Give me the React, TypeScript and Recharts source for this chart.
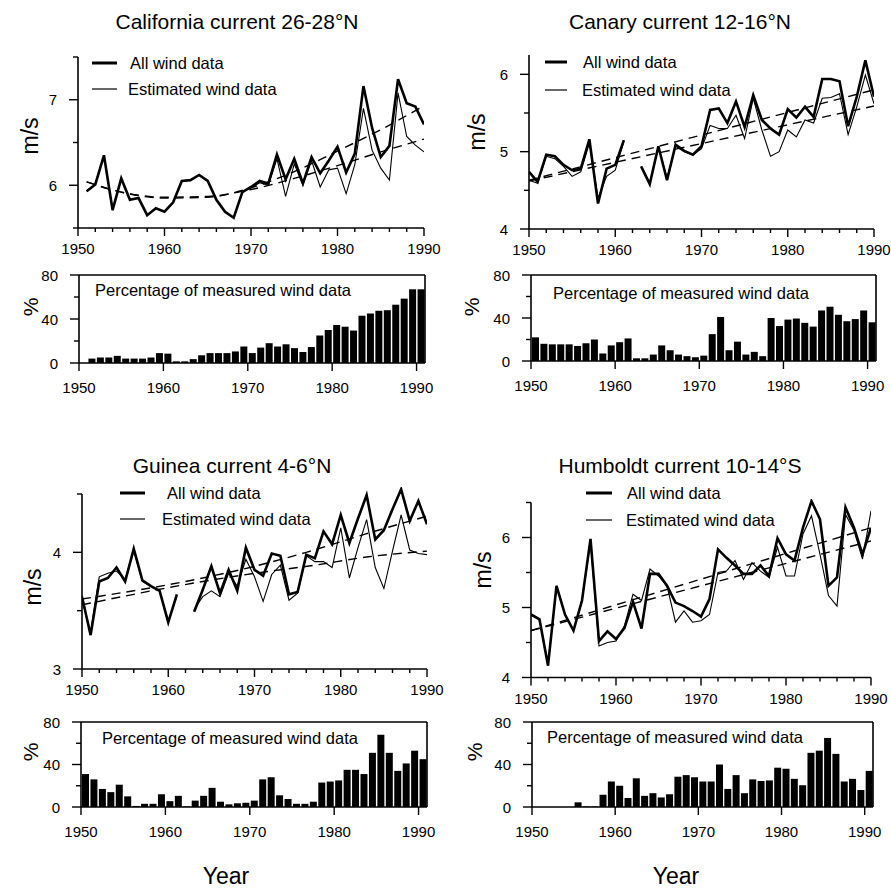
import React from 'react';
import { LineChart, Line, XAxis, YAxis, ComposedChart, Bar, ReferenceLine } from 'recharts';

const FONT = '"Liberation Sans", Arial, Helvetica, sans-serif';

const YEARS = [1950, 1951, 1952, 1953, 1954, 1955, 1956, 1957, 1958, 1959, 1960, 1961, 1962, 1963, 1964, 1965, 1966, 1967, 1968, 1969, 1970, 1971, 1972, 1973, 1974, 1975, 1976, 1977, 1978, 1979, 1980, 1981, 1982, 1983, 1984, 1985, 1986, 1987, 1988, 1989, 1990];
const LINE_X_TICKS = [1950, 1952, 1954, 1956, 1958, 1960, 1962, 1964, 1966, 1968, 1970, 1972, 1974, 1976, 1978, 1980, 1982, 1984, 1986, 1988, 1990];
const DECADES = [1950, 1960, 1970, 1980, 1990];
const PCT_TICKS = [0, 20, 40, 60, 80];
const PCT_LABELS = [0, 40, 80];

// California current 26-28N
const CAL_ALL = [null, 5.93, 6.01, 6.35, 5.71, 6.08, 5.83, 5.85, 5.65, 5.73, 5.69, 5.80, 6.05, 6.06, 6.12, 6.05, 5.83, 5.69, 5.62, 5.92, 5.98, 6.05, 6.02, 6.36, 6.07, 6.31, 6.02, 6.33, 6.14, 6.29, 6.45, 6.15, 6.37, 7.16, 6.67, 6.33, 6.46, 7.24, 6.96, 6.92, 6.71];
const CAL_EST = [null, 5.93, 6.01, 6.35, 5.71, 6.08, 5.83, 5.85, 5.65, 5.73, 5.69, 5.80, 6.05, 6.06, 6.12, 6.05, 5.83, 5.69, 5.62, 5.92, 5.97, 6.03, 6.00, 6.31, 5.87, 6.25, 6.00, 6.29, 5.98, 6.18, 6.20, 5.90, 6.24, 6.90, 6.41, 6.20, 6.06, 7.08, 6.57, 6.47, 6.39];
const CAL_TREND_YEARS = [1951, 1955, 1960, 1965, 1970, 1975, 1980, 1985, 1990];
const CAL_TREND_ALL = [6.04, 5.92, 5.85, 5.86, 5.97, 6.16, 6.40, 6.65, 6.93];
const CAL_TREND_EST = [6.04, 5.92, 5.86, 5.87, 5.95, 6.08, 6.23, 6.39, 6.54];
const CAL_PCT = [0, 4, 5, 5, 6.5, 4, 4, 4, 5, 9, 8.5, 1.5, 1.5, 3.5, 7, 9, 9, 9, 10.5, 15, 9, 14, 18, 15, 17, 13.5, 10, 14.5, 25, 30, 34.5, 33, 29.5, 43, 45, 47.5, 48, 53, 58.5, 67, 67];

// Canary current 12-16N
const CAN_ALL = [4.74, 4.61, 4.96, 4.94, 4.83, 4.76, 4.78, 5.16, 4.33, 4.78, 4.83, 5.15, null, 4.81, 4.58, 5.07, 4.63, 5.09, 5.01, 4.96, 5.07, 5.54, 5.56, 5.37, 5.65, 5.32, 5.73, 5.41, 5.30, 5.22, 5.55, 5.44, 5.58, 5.45, 5.94, 5.94, 5.91, 5.33, 5.71, 6.18, 5.71];
const CAN_EST = [4.63, 4.59, 4.94, 4.91, 4.81, 4.68, 4.74, 5.11, 4.40, 4.68, 4.76, 5.13, null, 4.81, 4.59, 5.06, 4.66, 5.07, 5.00, 4.96, 5.04, 5.34, 5.30, 5.30, 5.47, 5.17, 5.69, 5.28, 4.94, 5.00, 5.28, 5.19, 5.41, 5.37, 5.69, 5.70, 5.75, 5.22, 5.58, 5.99, 5.62];
const CAN_TREND_YEARS = [1950, 1990];
const CAN_TREND_ALL = [4.63, 5.80];
const CAN_TREND_EST = [4.62, 5.59];
const CAN_PCT = [22, 16, 15.5, 15.5, 15.5, 14, 16.5, 20, 7, 14.5, 17.5, 21, 2.5, 2.5, 6, 14.5, 10, 6, 4.5, 3.5, 5, 25, 41, 10, 18, 6, 8.5, 4.5, 40, 32.5, 38.5, 39.5, 35.5, 32, 47, 50.5, 43, 37, 39, 47, 36];

// Guinea current 4-6N
const GUI_ALL = [3.62, 3.29, 3.75, 3.78, 3.87, 3.75, 4.03, 3.76, 3.71, 3.67, 3.40, 3.64, null, 3.49, 3.68, 3.88, 3.65, 3.85, 3.67, 4.04, 3.85, 3.80, 3.99, 3.97, 3.64, 3.66, 3.98, 3.95, 4.18, 4.07, 4.32, 4.08, 4.29, 4.49, 4.11, 4.19, 4.37, 4.54, 4.27, 4.44, 4.24];
const GUI_EST = [3.59, 3.32, 3.79, 3.82, 3.84, 3.77, 4.02, 3.75, 3.71, 3.67, 3.41, 3.62, null, 3.51, 3.62, 3.67, 3.62, 3.82, 3.71, 3.94, 3.79, 3.58, 3.81, 3.89, 3.59, 3.65, 3.97, 3.92, 3.92, 3.87, 4.21, 3.78, 4.04, 4.28, 3.87, 3.69, 4.01, 4.32, 4.02, 3.99, 3.98];
const GUI_TREND_ALL_YEARS = [1950, 1964, 1970, 1976, 1983, 1990];
const GUI_TREND_ALL = [3.60, 3.78, 3.88, 4.00, 4.16, 4.31];
const GUI_TREND_EST_YEARS = [1950, 1964, 1970, 1977, 1983, 1990];
const GUI_TREND_EST = [3.55, 3.75, 3.82, 3.89, 3.96, 4.01];
const GUI_PCT = [31, 26, 17, 14, 21, 10, 1, 3, 3, 12, 5.5, 10.5, 0.5, 6, 10.5, 18, 5, 2.5, 3.5, 4, 6, 26, 28, 11, 7.5, 3, 3, 5, 23, 24, 25, 35, 35, 31, 51, 68, 51, 34, 41, 53, 45];

// Humboldt current 10-14S
const HUM_ALL = [4.90, 4.83, 4.17, 5.31, 4.90, 4.67, 5.10, 5.98, 4.52, 4.66, 4.55, 4.71, 5.08, 4.70, 5.48, 5.48, 5.31, 5.07, 5.02, 4.95, 4.87, 5.12, 5.83, 5.71, 5.60, 5.48, 5.48, 5.60, 5.45, 5.99, 5.76, 5.67, 6.14, 6.52, 6.26, 5.31, 5.43, 6.43, 6.14, 5.76, 6.14];
const HUM_EST = [4.90, 4.83, 4.17, 5.31, 4.90, 4.67, 5.10, 5.93, 4.45, 4.50, 4.52, 4.74, 5.19, 5.10, 5.55, 5.45, 5.31, 4.79, 4.95, 4.79, 4.81, 4.90, 5.50, 5.52, 5.67, 5.40, 5.64, 5.52, 5.43, 5.86, 5.45, 5.45, 6.05, 6.31, 5.76, 5.17, 5.02, 6.33, 6.10, 5.69, 6.38];
const HUM_TREND_YEARS = [1950, 1990];
const HUM_TREND_ALL = [4.67, 6.14];
const HUM_TREND_EST = [4.67, 5.95];
const HUM_PCT = [0, 0, 0, 0, 0, 4.4, 0.5, 0.5, 11.5, 24, 20, 8.5, 27, 10.5, 13, 9, 12, 28.5, 30, 28, 24, 24, 40, 17, 30, 13, 26, 24.5, 25, 37, 36, 26.5, 20.5, 51, 53, 65, 50, 24, 26.5, 16, 34];

const makeYTick = (labels: number[]) => (props: any) => {
  const { x, y, payload } = props;
  const v = payload.value;
  const major = labels.includes(v);
  return (
    <g>
      <line x1={x - (major ? 9 : 5)} x2={x} y1={y} y2={y} stroke="#000" strokeWidth={1.4} />
      {major && (
        <text x={x - 21} y={y + 5.5} textAnchor="end" fontSize={15} fontFamily={FONT} fill="#000">{v}</text>
      )}
    </g>
  );
};

// limit: the label is kept inside the chart's drawing area on its right
const makeXTick = (labels: number[], labelDy: number, majorLen: number, minorLen: number) => (props: any) => {
  const { x, y, payload, width } = props;
  const v = payload.value;
  const major = labels.includes(v);
  const plotRight = props.x !== undefined && width !== undefined ? props.viewBox?.x + width : undefined;
  void plotRight;
  return (
    <g>
      <line x1={x} x2={x} y1={y} y2={y + (major ? majorLen : minorLen)} stroke="#000" strokeWidth={1.4} />
      {major && (
        <text x={x} y={y + labelDy} textAnchor="middle" fontSize={15} fontFamily={FONT} fill="#000">{v}</text>
      )}
    </g>
  );
};

const lineXTick = makeXTick(DECADES, 26, 8, 4);
const barXTick = makeXTick(DECADES, 30, 8, 8);
const pctYTick = makeYTick(PCT_LABELS);

type LineProps = {
  box: number[];
  yDomain: number[];
  axisTop: number;
  yTicks: number[];
  yLabels: number[];
  all: (number | null)[];
  est: (number | null)[];
  trendAllYears: number[];
  trendAll: number[];
  trendEstYears: number[];
  trendEst: number[];
};

function LinePanel(p: LineProps) {
  const [L, T, R, B] = p.box;
  const data = YEARS.map((year, i) => ({ year, all: p.all[i], est: p.est[i] }));
  const tAll = p.trendAllYears.map((year, i) => ({ year, v: p.trendAll[i] }));
  const tEst = p.trendEstYears.map((year, i) => ({ year, v: p.trendEst[i] }));
  const yTick = makeYTick(p.yLabels);
  return (
    <div style={{ position: 'absolute', left: L - 60, top: T - 10 }}>
      <LineChart width={R - L + 80} height={B - T + 50} data={data} margin={{ top: 10, right: 20, bottom: 10, left: 0 }}>
        <XAxis dataKey="year" type="number" domain={[1950, 1990]} ticks={LINE_X_TICKS} interval={0} tickSize={0} tickMargin={0}
          tick={lineXTick} tickLine={false} axisLine={{ stroke: '#000', strokeWidth: 1.5 }} height={30} allowDataOverflow />
        <YAxis type="number" domain={p.yDomain} ticks={p.yTicks} interval={0} tickSize={0} tickMargin={0}
          tick={yTick} tickLine={false} axisLine={false} width={60} allowDataOverflow />
        <ReferenceLine segment={[{ x: 1950, y: p.yDomain[0] }, { x: 1950, y: p.axisTop }]} stroke="#000" strokeWidth={1.6} ifOverflow="visible" />
        <Line data={tAll} dataKey="v" type="monotone" stroke="#000" strokeWidth={1.4} strokeDasharray="9 6" dot={false} isAnimationActive={false} />
        <Line data={tEst} dataKey="v" type="monotone" stroke="#000" strokeWidth={1.4} strokeDasharray="9 6" dot={false} isAnimationActive={false} />
        <Line dataKey="est" type="linear" stroke="#000" strokeWidth={1.1} dot={false} isAnimationActive={false} />
        <Line dataKey="all" type="linear" stroke="#000" strokeWidth={2.6} dot={false} isAnimationActive={false} />
      </LineChart>
    </div>
  );
}

function BarPanel({ box, pct }: { box: number[]; pct: number[] }) {
  const [L, T, R, B] = box;
  const data = YEARS.map((year, i) => ({ x: year + 0.5, pct: pct[i] }));
  return (
    <div style={{ position: 'absolute', left: L - 60, top: T - 10 }}>
      <ComposedChart width={R - L + 80} height={B - T + 50} data={data} margin={{ top: 10, right: 20, bottom: 10, left: 0 }}>
        <XAxis dataKey="x" type="number" domain={[1950, 1991]} ticks={DECADES} interval={0} tickSize={0} tickMargin={0}
          tick={barXTick} tickLine={false} axisLine={{ stroke: '#000', strokeWidth: 1.5 }} height={30} allowDataOverflow />
        <YAxis type="number" domain={[0, 80]} ticks={PCT_TICKS} interval={0} tickSize={0} tickMargin={0}
          tick={pctYTick} tickLine={false} axisLine={{ stroke: '#000', strokeWidth: 1.6 }} width={60} allowDataOverflow />
        <ReferenceLine y={80} stroke="#000" strokeWidth={1.6} />
        <ReferenceLine x={1991} stroke="#000" strokeWidth={1.6} />
        <Bar dataKey="pct" fill="#000" barSize={7} isAnimationActive={false} />
      </ComposedChart>
    </div>
  );
}

function Legend({ x, y1, y2, t1x, t2x }: { x: number[]; y1: number; y2: number; t1x: number; t2x: number }) {
  return (
    <g>
      <line x1={x[0]} x2={x[1]} y1={y1} y2={y1} stroke="#000" strokeWidth={3} />
      <text x={t1x} y={y1 + 6} fontSize={16.5} fontFamily={FONT} fill="#000">All wind data</text>
      <line x1={x[0]} x2={x[1]} y1={y2} y2={y2} stroke="#000" strokeWidth={1.2} />
      <text x={t2x} y={y2 + 6} fontSize={16.5} fontFamily={FONT} fill="#000">Estimated wind data</text>
    </g>
  );
}

function RotLabel({ x, y, text, size }: { x: number; y: number; text: string; size: number }) {
  return (
    <text x={x} y={y} transform={`rotate(-90 ${x} ${y})`} textAnchor="middle" dominantBaseline="central" fontSize={size} fontFamily={FONT} fill="#000">{text}</text>
  );
}

export default function App() {
  const txt = { fontFamily: FONT, fill: '#000' };
  return (
    <div style={{ position: 'absolute', left: 0, top: 0, width: 891, height: 889, background: '#fff', overflow: 'hidden' }}>
      <LinePanel box={[78, 57, 424, 228]} yDomain={[5.5, 7.5]} axisTop={7.5} yTicks={[5.5, 6, 6.5, 7, 7.5]} yLabels={[6, 7]}
        all={CAL_ALL} est={CAL_EST} trendAllYears={CAL_TREND_YEARS} trendAll={CAL_TREND_ALL} trendEstYears={CAL_TREND_YEARS} trendEst={CAL_TREND_EST} />
      <BarPanel box={[79, 275, 425, 363]} pct={CAL_PCT} />

      <LinePanel box={[529, 55, 874, 229]} yDomain={[4, 6.25]} axisTop={6.25} yTicks={[4, 4.5, 5, 5.5, 6]} yLabels={[4, 5, 6]}
        all={CAN_ALL} est={CAN_EST} trendAllYears={CAN_TREND_YEARS} trendAll={CAN_TREND_ALL} trendEstYears={CAN_TREND_YEARS} trendEst={CAN_TREND_EST} />
      <BarPanel box={[531, 275, 876, 361]} pct={CAN_PCT} />

      <LinePanel box={[82, 487, 427, 669]} yDomain={[3, 4.56]} axisTop={4.5} yTicks={[3, 3.5, 4, 4.5]} yLabels={[3, 4]}
        all={GUI_ALL} est={GUI_EST} trendAllYears={GUI_TREND_ALL_YEARS} trendAll={GUI_TREND_ALL} trendEstYears={GUI_TREND_EST_YEARS} trendEst={GUI_TREND_EST} />
      <BarPanel box={[81, 722, 427, 807]} pct={GUI_PCT} />

      <LinePanel box={[531, 498.5, 871, 677]} yDomain={[4, 6.55]} axisTop={6.5} yTicks={[4, 4.5, 5, 5.5, 6, 6.5]} yLabels={[4, 5, 6]}
        all={HUM_ALL} est={HUM_EST} trendAllYears={HUM_TREND_YEARS} trendAll={HUM_TREND_ALL} trendEstYears={HUM_TREND_YEARS} trendEst={HUM_TREND_EST} />
      <BarPanel box={[532, 722, 873, 807]} pct={HUM_PCT} />

      <svg width={891} height={889} style={{ position: 'absolute', left: 0, top: 0, pointerEvents: 'none' }}>
        <text x={237} y={29} textAnchor="middle" fontSize={21} {...txt}>California current 26-28°N</text>
        <text x={680} y={29} textAnchor="middle" fontSize={21} {...txt}>Canary current 12-16°N</text>
        <text x={232} y={473} textAnchor="middle" fontSize={21} {...txt}>Guinea current 4-6°N</text>
        <text x={680} y={473} textAnchor="middle" fontSize={21} {...txt}>Humboldt current 10-14°S</text>

        <Legend x={[92, 117]} y1={63} y2={89} t1x={130} t2x={128} />
        <Legend x={[545, 567]} y1={62} y2={90} t1x={583} t2x={582} />
        <Legend x={[120, 145]} y1={493} y2={519} t1x={167} t2x={162} />
        <Legend x={[586, 612]} y1={493} y2={520} t1x={627} t2x={626} />

        <text x={95} y={296} fontSize={16.5} {...txt}>Percentage of measured wind data</text>
        <text x={553} y={299} fontSize={16.5} {...txt}>Percentage of measured wind data</text>
        <text x={102} y={744} fontSize={16.5} {...txt}>Percentage of measured wind data</text>
        <text x={547} y={743} fontSize={16.5} {...txt}>Percentage of measured wind data</text>

        <RotLabel x={30} y={136} text="m/s" size={23} />
        <RotLabel x={477} y={132} text="m/s" size={23} />
        <RotLabel x={33} y={587} text="m/s" size={23} />
        <RotLabel x={483} y={570} text="m/s" size={23} />

        <RotLabel x={30} y={307} text="%" size={21} />
        <RotLabel x={471} y={307} text="%" size={21} />
        <RotLabel x={30} y={752} text="%" size={21} />
        <RotLabel x={474} y={752} text="%" size={21} />

        <text x={226} y={884} textAnchor="middle" fontSize={23} {...txt}>Year</text>
        <text x={676} y={884} textAnchor="middle" fontSize={23} {...txt}>Year</text>
      </svg>
    </div>
  );
}
